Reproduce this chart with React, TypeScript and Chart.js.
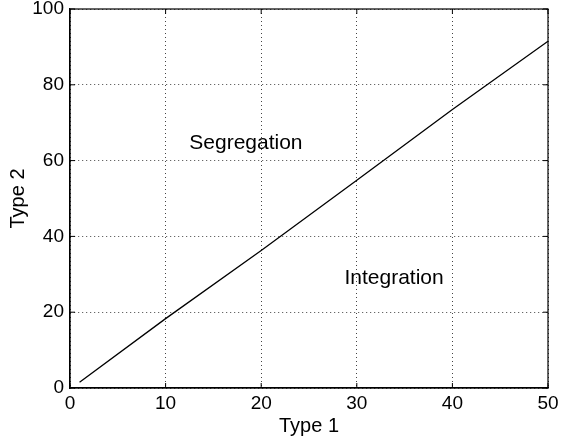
import React, { useEffect, useRef } from "react";
import { Chart, registerables } from "chart.js";

Chart.register(...registerables);

const type1 = [1, 10, 20, 30, 40, 50];
const type2 = [1.5, 18.3, 36.3, 54.8, 73.5, 91.5];
const xTicks = [0, 10, 20, 30, 40, 50];
const yTicks = [0, 20, 40, 60, 80, 100];
const regionLabels = ["Segregation", "Integration"];
const regionX = [18.4, 33.9];
const regionY = [64.5, 29];

const FONT = "'Liberation Sans', Arial, Helvetica, sans-serif";

const boxPlugin = {
  id: "boxAndLabels",
  afterDraw(chart: any) {
    const { ctx, chartArea, scales } = chart;
    const x = scales.x;
    const y = scales.y;
    ctx.save();
    ctx.strokeStyle = "#000";
    ctx.lineWidth = 1.2;
    ctx.strokeRect(chartArea.left, chartArea.top, chartArea.right - chartArea.left, chartArea.bottom - chartArea.top);
    const tl = 5;
    ctx.lineWidth = 1;
    ctx.beginPath();
    xTicks.forEach((v) => {
      const px = x.getPixelForValue(v);
      ctx.moveTo(px, chartArea.bottom);
      ctx.lineTo(px, chartArea.bottom - tl);
      ctx.moveTo(px, chartArea.top);
      ctx.lineTo(px, chartArea.top + tl);
    });
    yTicks.forEach((v) => {
      const py = y.getPixelForValue(v);
      ctx.moveTo(chartArea.left, py);
      ctx.lineTo(chartArea.left + tl, py);
      ctx.moveTo(chartArea.right, py);
      ctx.lineTo(chartArea.right - tl, py);
    });
    ctx.stroke();
    ctx.fillStyle = "#000";
    ctx.font = `21px ${FONT}`;
    ctx.textAlign = "center";
    ctx.textBaseline = "middle";
    regionLabels.forEach((t, i) => {
      ctx.fillText(t, x.getPixelForValue(regionX[i]), y.getPixelForValue(regionY[i]));
    });
    ctx.restore();
  },
};

export default function App() {
  const ref = useRef<HTMLCanvasElement | null>(null);
  useEffect(() => {
    document.body.style.margin = "0";
    const canvas = ref.current!;
    const chart = new Chart(canvas, {
      type: "line",
      data: {
        datasets: [
          {
            data: type1.map((v, i) => ({ x: v, y: type2[i] })),
            borderColor: "#000",
            borderWidth: 1.3,
            pointRadius: 0,
            tension: 0,
            fill: false,
          },
        ],
      },
      options: {
        animation: false,
        responsive: false,
        maintainAspectRatio: false,
        layout: { padding: { top: 9, right: 14, left: 0, bottom: 0 } },
        plugins: { legend: { display: false }, tooltip: { enabled: false } },
        scales: {
          x: {
            type: "linear",
            min: 0,
            max: 50,
            afterBuildTicks: (s: any) => {
              s.ticks = xTicks.map((v) => ({ value: v }));
            },
            afterFit: (s: any) => {
              s.height = 50;
              s.paddingLeft = 0;
              s.paddingRight = 0;
            },
            grid: { color: "#444", lineWidth: 1, drawTicks: false },
            border: { display: true, color: "#000", width: 1.2, dash: [1, 3] },
            ticks: { color: "#000", font: { family: FONT, size: 19 }, padding: 4, maxRotation: 0 },
            title: {
              display: true,
              text: "Type 1",
              color: "#000",
              font: { family: FONT, size: 20 },
              padding: { top: 0, bottom: 0 },
            },
          },
          y: {
            type: "linear",
            min: 0,
            max: 100,
            afterBuildTicks: (s: any) => {
              s.ticks = yTicks.map((v) => ({ value: v }));
            },
            afterFit: (s: any) => {
              s.width = 70;
              s.paddingTop = 0;
              s.paddingBottom = 0;
            },
            grid: { color: "#444", lineWidth: 1, drawTicks: false },
            border: { display: true, color: "#000", width: 1.2, dash: [1, 3] },
            ticks: { color: "#000", font: { family: FONT, size: 19 }, padding: 6 },
            title: {
              display: true,
              text: "Type 2",
              color: "#000",
              font: { family: FONT, size: 20 },
              padding: { top: 6, bottom: 0 },
            },
          },
        },
      },
      plugins: [boxPlugin],
    } as any);
    return () => chart.destroy();
  }, []);
  return <canvas ref={ref} width={562} height={438} style={{ display: "block" }} />;
}
